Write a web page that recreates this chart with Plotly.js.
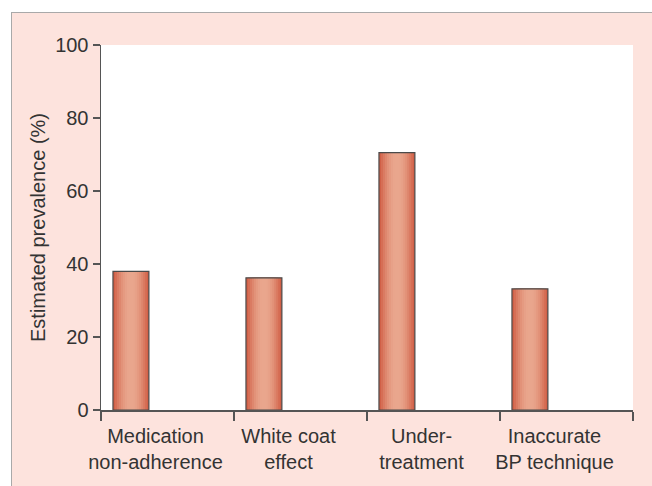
<!DOCTYPE html>
<html>
<head>
<meta charset="utf-8">
<script src="https://cdn.plot.ly/plotly-3.0.1.min.js"></script>
<style>
  html, body { margin: 0; padding: 0; background: #ffffff; }
  #frame { position: absolute; left: 11px; top: 12px; width: 640px; height: 473px;
           border-left: 1px solid #a9a9a9; border-top: 1px solid #a9a9a9; }
  #chart { width: 640px; height: 473px; }
</style>
</head>
<body>
<div id="frame"><div id="chart"></div></div>
<script>
// ---- data ----
const categories = ["Medication<br>non-adherence", "White coat<br>effect", "Under-<br>treatment", "Inaccurate<br>BP technique"];
const prevalence = [38, 36.2, 70.5, 33.2];
const yTickValues = [0, 20, 40, 60, 80, 100];
const yAxisTitle = "Estimated prevalence (%)";

// ---- styling ----
const barWidth = 0.27;
const barOffset = -0.41;
const edgeRGB = [209, 97, 72];
const centerRGB = [233, 166, 141];
const layers = 9;

function mix(a, b, t) {
  return "rgb(" + a.map((v, i) => Math.round(v + (b[i] - v) * t)).join(",") + ")";
}

const traces = [];
for (let k = 0; k < layers; k++) {
  const w = barWidth * (1 - k / layers);
  const t = Math.sin((k / (layers - 1)) * Math.PI / 2);
  traces.push({
    type: "bar",
    x: categories,
    y: prevalence,
    width: w,
    offset: barOffset + (barWidth - w) / 2,
    marker: { color: mix(edgeRGB, centerRGB, t), line: { width: 0 } },
    hoverinfo: "skip",
    showlegend: false
  });
}
traces.push({
  type: "bar",
  x: categories,
  y: prevalence,
  width: barWidth,
  offset: barOffset,
  marker: { color: "rgba(0,0,0,0)", line: { width: 1.2, color: "#4a4a4a" } },
  hoverinfo: "skip",
  showlegend: false
});

const font = { family: "Liberation Sans, Arial, sans-serif", size: 20, color: "#333333" };

const layout = {
  width: 640,
  height: 473,
  margin: { l: 89, r: 19, t: 32, b: 76, pad: 0 },
  paper_bgcolor: "#fde3dd",
  plot_bgcolor: "#ffffff",
  barmode: "overlay",
  font: font,
  xaxis: {
    type: "category",
    range: [-0.5, 3.5],
    tickson: "boundaries",
    ticks: "outside",
    ticklen: 9,
    tickwidth: 1.5,
    tickcolor: "#555555",
    showline: true,
    linecolor: "#555555",
    linewidth: 1.5,
    showgrid: false,
    zeroline: false,
    tickangle: 0,
    ticklabelshift: -12,
    ticklabelstandoff: 7,
    tickfont: font,
    fixedrange: true
  },
  yaxis: {
    range: [0, 100],
    tickvals: yTickValues,
    ticks: "outside",
    ticklen: 7,
    tickwidth: 1.5,
    tickcolor: "#555555",
    showline: true,
    linecolor: "#555555",
    linewidth: 1.5,
    showgrid: false,
    zeroline: false,
    tickfont: font,
    title: { text: yAxisTitle, font: font, standoff: 4 },
    fixedrange: true
  }
};

Plotly.newPlot("chart", traces, layout, { displayModeBar: false, staticPlot: true });
</script>
</body>
</html>
